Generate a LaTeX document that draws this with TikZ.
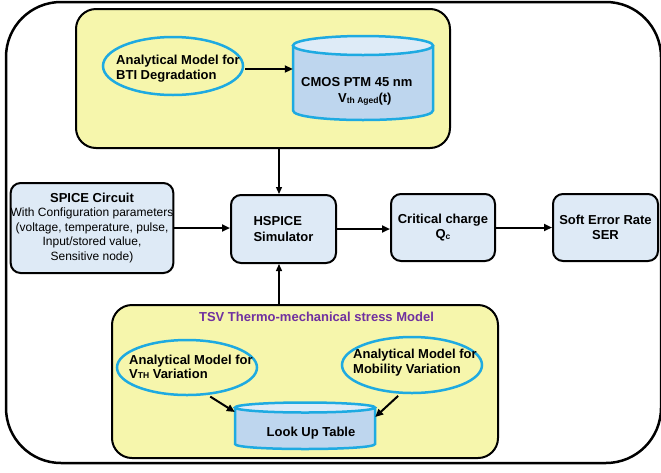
\documentclass[tikz,border=0pt]{standalone}
\usepackage{fontspec}
\setmainfont{Liberation Sans}
\usetikzlibrary{shapes.geometric,arrows.meta,calc}
\definecolor{yel}{RGB}{246,246,172}
\definecolor{lbox}{RGB}{222,234,246}
\definecolor{cylbody}{RGB}{190,214,238}
\definecolor{cyltop}{RGB}{222,235,247}
\definecolor{cyanb}{RGB}{30,170,225}
\definecolor{purp}{RGB}{112,48,160}
\newcommand{\mycyl}[5]{%
  \path[fill=cylbody] (#1,#3) -- (#1,#4) .. controls (#1,#4+1.333*#5) and (#2,#4+1.333*#5) .. (#2,#4) -- (#2,#3) -- cycle;
  \draw[draw=cyanb,line width=2.5pt] (#1,#3) -- (#1,#4) .. controls (#1,#4+1.333*#5) and (#2,#4+1.333*#5) .. (#2,#4) -- (#2,#3);
  \draw[fill=cyltop,draw=cyanb,line width=2.5pt] ({(#1+#2)/2},#3) ellipse [x radius={(#2-#1)/2}, y radius=#5];
}
\begin{document}
\begin{tikzpicture}[x=1pt,y=-1pt,
  frame/.style={draw=black,line width=2.5pt,rounded corners=55pt},
  ybox/.style={draw=black,fill=yel,line width=2pt,rounded corners=20pt,inner sep=0pt},
  bbox/.style={draw=black,fill=lbox,line width=2pt,rounded corners=10pt,inner sep=0pt,align=center,font=\fontsize{13}{15.5}\selectfont\bfseries},
  ell/.style={ellipse,draw=cyanb,line width=2.5pt,inner sep=0pt},
  txt/.style={inner sep=0pt,align=left,font=\fontsize{13}{15}\selectfont\bfseries},
  holder/.style={inner sep=0pt,draw=none},
  arr/.style={line width=2pt,-{Triangle[length=8pt,width=7pt]}},
  arrthin/.style={line width=1.3pt,-{Triangle[length=7pt,width=6pt]}},
]
\useasboundingbox (0,0) rectangle (661,472);
\draw[frame] (6,2) rectangle (661,463);

% top group
\node[ybox, minimum width=374pt, minimum height=139pt] (topbox) at (263,78.5) {};
\node[ell, minimum width=140pt, minimum height=58pt] (bti) at (173,66) {};
\node[txt, anchor=west] (btiT) at (116,69) {Analytical Model for\\BTI Degradation};
\mycyl{293}{433}{45.5}{110.5}{9.5}
\node[holder, minimum width=140pt, minimum height=84pt] (cmos) at (363,78) {};
\node[txt, anchor=base west] (cmosT1) at (301,86) {CMOS PTM 45 nm};
\node[txt, anchor=base west] (cmosT2) at (338,102) {V\raisebox{-1.5pt}{\fontsize{8.5}{9}\selectfont th Aged}(t)};
\coordinate (btiE) at ([yshift=-3pt]bti.east);
\draw[arr] ([xshift=1pt]btiE) -- (btiE -| cmos.west);

% middle row
\node[bbox, minimum width=160pt, minimum height=90pt, font=\fontsize{12}{14.5}\selectfont] (spice) at (92,228)
  {{\fontsize{13}{14.5}\selectfont\bfseries SPICE Circuit}\\With Configuration parameters\\(voltage, temperature, pulse,\\Input/stored value,\\Sensitive node)};
\node[bbox, minimum width=105pt, minimum height=68pt, align=left] (hs) at (283.5,229) {HSPICE\\Simulator};
\node[bbox, minimum width=104pt, minimum height=67pt] (crit) at (443,227.5) {Critical charge\\Q\raisebox{-0.5pt}{\fontsize{8.5}{9}\selectfont c}};
\node[bbox, minimum width=105pt, minimum height=67pt] (ser) at (605.5,227.5) {Soft Error Rate\\SER};

% bottom group
\node[ybox, minimum width=386pt, minimum height=153pt] (botbox) at (305,381.5) {};
\node[txt, text=purp, anchor=base] (tsvT) at (316.5,321) {TSV Thermo-mechanical stress Model};
\node[ell, minimum width=140pt, minimum height=55pt] (vth) at (187,367.5) {};
\node[txt, anchor=west, font=\fontsize{13}{14}\selectfont\bfseries] (vthT) at (129,367) {Analytical Model for\\V{\fontsize{8.5}{9}\selectfont TH} Variation};
\node[ell, minimum width=140pt, minimum height=56pt] (mob) at (412,365) {};
\node[txt, anchor=west] (mobT) at (353,363) {Analytical Model for\\Mobility Variation};
\mycyl{235}{375}{407.5}{444}{5}
\node[holder, minimum width=140pt, minimum height=46pt] (lut) at (305,426) {};
\node[txt, anchor=base] (lutT) at (311,436) {Look Up Table};

% connectors
\coordinate (hsTop) at ([xshift=-4.5pt]hs.north);
\coordinate (hsBot) at ([xshift=-4.5pt]hs.south);
\draw[arrthin] (hsTop |- topbox.south) -- (hsTop);
\draw[arrthin] (hsBot |- botbox.north) -- (hsBot);
\draw[arr] (spice.east) -- (spice.east -| hs.west);
\draw[arr] (hs.east) -- (hs.east -| crit.west);
\draw[arr] (crit.east) -- (crit.east -| ser.west);
\draw[arr, shorten <=3pt] (vth.-53) -- ([yshift=14pt]lut.west);
\draw[arr, shorten <=3pt] (mob.-112) -- ([yshift=9pt]lut.east);
\end{tikzpicture}
\end{document}
